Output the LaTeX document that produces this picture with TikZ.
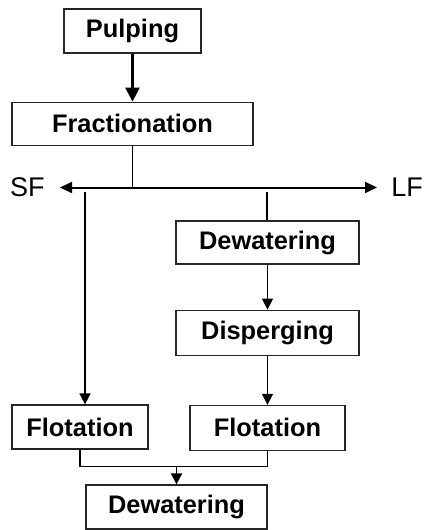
\documentclass[tikz,border=0pt]{standalone}
\usepackage{fontspec}
\setmainfont{Liberation Sans}
\usetikzlibrary{positioning,arrows.meta}
\tikzstyle{sbox}=[rectangle, draw=black!85, line width=0.6pt, inner sep=0pt,
                   minimum height=22pt, text centered, font=\fontsize{12.7}{14}\selectfont\bfseries]
\tikzstyle{tlabel}=[inner sep=0pt, font=\fontsize{13.5}{15}\selectfont]
\tikzstyle{pline}=[-, line width=0.75pt]
\tikzstyle{parrow}=[-{Triangle[length=5.5pt,width=5.5pt]}, line width=0.75pt]
\tikzstyle{tharrow}=[-{Triangle[length=7pt,width=7pt]}, line width=1.2pt]
\tikzstyle{sarrow}=[{Triangle[length=6pt,width=5.5pt]}-{Triangle[length=6pt,width=5.5pt]}, line width=1pt]
\begin{document}
\begin{tikzpicture}[node distance=0mm]
\useasboundingbox (0,0) rectangle (213pt,-265pt);

\node (PULP) [sbox, minimum width=68.5pt] at (66.25pt,-15.5pt) {Pulping};
\node (FRAC) [sbox, minimum width=120.5pt, minimum height=21.5pt, below=24pt of PULP] {Fractionation};
 \draw[tharrow] (PULP) -- (FRAC);

%% split into short and long fraction
\coordinate (SFTIP) at (30pt,-93.75pt);
\coordinate (LFTIP) at (188.5pt,-93.75pt);
\draw[sarrow] (SFTIP) -- (LFTIP);
\draw[pline] (FRAC.south) -- (FRAC.south |- SFTIP);
\node (SF) [tlabel, left=7.5pt of SFTIP] {SF};
\node (LF) [tlabel, right=7pt of LFTIP] {LF};

%% long fraction
\node (DEW) [sbox, minimum width=91.5pt, minimum height=21.5pt] at (133.75pt,-121.25pt) {Dewatering};
\node (DISP) [sbox, minimum width=91.5pt, minimum height=22.5pt, below=22.5pt of DEW] {Disperging};
\node (FLOTL) [sbox, minimum width=77.5pt, minimum height=22.5pt, below=24.5pt of DISP] {Flotation};
\coordinate (LFDROP) at (133.5pt,-96pt);
 \draw[pline] (LFDROP) -- (LFDROP |- DEW.north);
 \draw[parrow] (DEW) -- (DISP);
 \draw[parrow] (DISP) -- (FLOTL);

%% short fraction
\node (FLOTS) [sbox, minimum width=68pt] at (40pt,-213.5pt) {Flotation};
\coordinate (SFDROP) at (42.5pt,-96pt);
 \draw[parrow] (SFDROP) -- (SFDROP |- FLOTS.north);

%% both fractions together
\node (DEWF) [sbox, minimum width=90.5pt] at (88.25pt,-253.5pt) {Dewatering};
\path (DEWF.north) ++(0,9pt) coordinate (MERGE);
 \draw[pline] (FLOTS.south) |- (MERGE) -| (FLOTL.south);
 \draw[parrow] (MERGE) -- (DEWF);

\end{tikzpicture}
\end{document}
